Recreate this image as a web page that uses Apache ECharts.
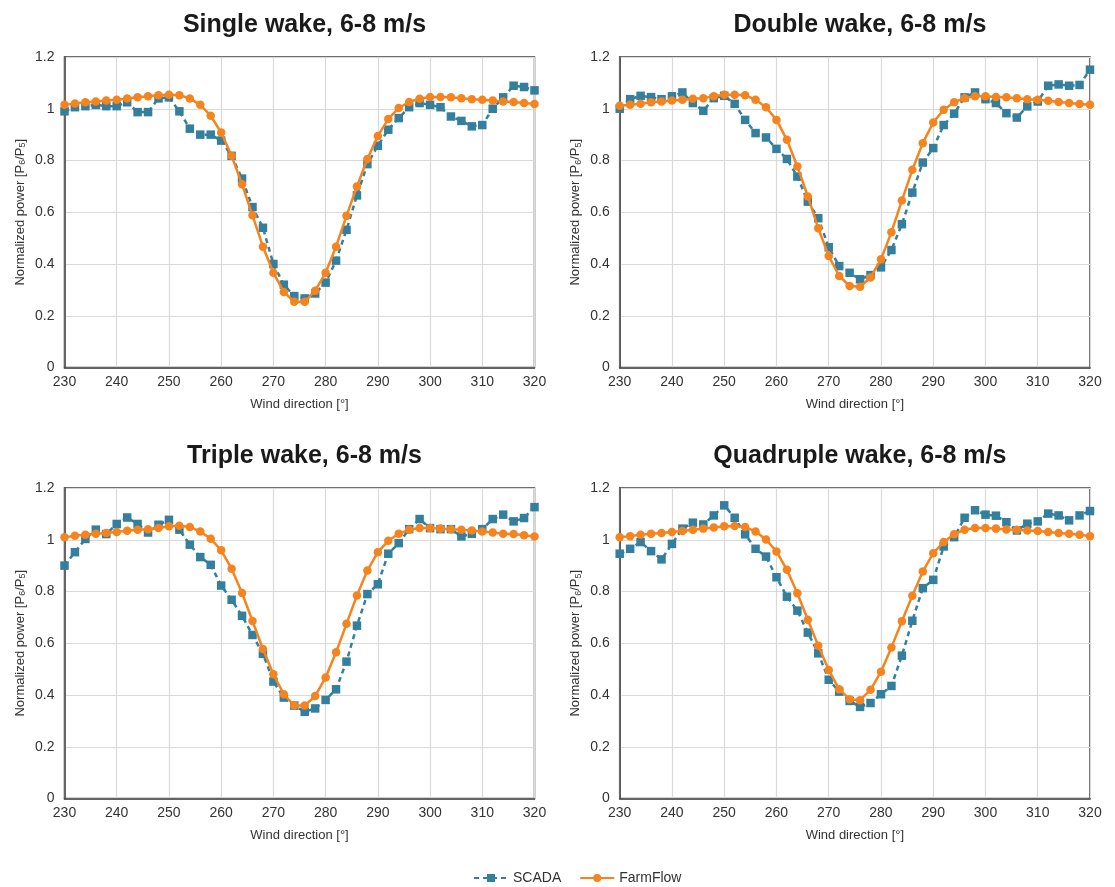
<!DOCTYPE html>
<html>
<head>
<meta charset="utf-8">
<script src="https://cdn.jsdelivr.net/npm/echarts@6/dist/echarts.min.js"></script>
<style>
html,body{margin:0;padding:0;background:#fff;}
#chart{width:1115px;height:887px;}
</style>
</head>
<body>
<div id="chart"></div>
<script>
// Wind direction categories (degrees)
const windDir = [230,232,234,236,238,240,242,244,246,248,250,252,254,256,258,260,262,264,266,268,270,272,274,276,278,280,282,284,286,288,290,292,294,296,298,300,302,304,306,308,310,312,314,316,318,320];

const panelTitles = ['Single wake, 6-8 m/s','Double wake, 6-8 m/s','Triple wake, 6-8 m/s','Quadruple wake, 6-8 m/s'];
const xTicks = [230,240,250,260,270,280,290,300,310,320];
const yTicks = [0,0.2,0.4,0.6,0.8,1,1.2];

const scadaSingle = [0.99,1.006,1.01,1.015,1.01,1.01,1.025,0.987,0.987,1.04,1.044,0.99,0.923,0.90,0.90,0.877,0.818,0.73,0.62,0.54,0.40,0.32,0.276,0.267,0.286,0.328,0.413,0.532,0.665,0.786,0.857,0.919,0.964,1.006,1.022,1.015,1.006,0.970,0.953,0.932,0.937,1.0,1.044,1.089,1.084,1.071];
const farmSingle = [1.015,1.02,1.025,1.028,1.032,1.035,1.04,1.044,1.048,1.052,1.054,1.052,1.04,1.015,0.973,0.908,0.818,0.708,0.588,0.467,0.366,0.292,0.254,0.254,0.297,0.366,0.467,0.586,0.70,0.806,0.895,0.96,1.003,1.026,1.039,1.045,1.045,1.044,1.041,1.037,1.035,1.032,1.028,1.026,1.022,1.018];

const scadaDouble = [1.0,1.037,1.05,1.045,1.037,1.048,1.063,1.022,0.992,1.041,1.05,1.019,0.957,0.906,0.889,0.845,0.806,0.738,0.641,0.577,0.465,0.392,0.366,0.341,0.357,0.387,0.454,0.554,0.676,0.792,0.848,0.937,0.981,1.044,1.063,1.037,1.022,0.983,0.966,1.009,1.028,1.089,1.094,1.089,1.092,1.151];
const farmDouble = [1.012,1.015,1.019,1.025,1.028,1.032,1.035,1.039,1.041,1.048,1.054,1.054,1.052,1.035,1.006,0.957,0.88,0.777,0.661,0.538,0.431,0.354,0.315,0.312,0.348,0.418,0.523,0.645,0.764,0.867,0.947,0.996,1.025,1.041,1.048,1.048,1.045,1.044,1.041,1.037,1.035,1.031,1.026,1.022,1.018,1.015];

const scadaTriple = [0.90,0.952,1.003,1.039,1.022,1.061,1.086,1.061,1.028,1.058,1.077,1.039,0.981,0.933,0.903,0.823,0.768,0.706,0.632,0.559,0.452,0.39,0.359,0.335,0.348,0.381,0.422,0.529,0.668,0.79,0.828,0.946,0.987,1.041,1.08,1.045,1.041,1.041,1.013,1.023,1.041,1.08,1.097,1.071,1.084,1.126];
const farmTriple = [1.01,1.015,1.019,1.023,1.026,1.03,1.035,1.039,1.041,1.045,1.052,1.054,1.049,1.032,1.004,0.959,0.888,0.794,0.686,0.578,0.48,0.403,0.359,0.359,0.396,0.468,0.565,0.675,0.785,0.881,0.952,0.996,1.023,1.039,1.045,1.045,1.043,1.041,1.039,1.036,1.032,1.028,1.023,1.022,1.017,1.013];

const scadaQuad = [0.946,0.965,0.991,0.956,0.924,0.984,1.043,1.066,1.059,1.094,1.133,1.085,1.021,0.965,0.935,0.855,0.78,0.726,0.641,0.561,0.459,0.413,0.377,0.354,0.369,0.403,0.435,0.552,0.687,0.813,0.845,0.974,1.01,1.085,1.114,1.097,1.093,1.068,1.036,1.062,1.071,1.101,1.094,1.075,1.094,1.111];
const farmQuad = [1.01,1.014,1.019,1.023,1.026,1.03,1.034,1.039,1.043,1.047,1.052,1.053,1.049,1.032,1.001,0.955,0.884,0.793,0.691,0.59,0.497,0.422,0.384,0.38,0.42,0.49,0.584,0.685,0.784,0.877,0.948,0.991,1.021,1.039,1.045,1.045,1.043,1.04,1.039,1.036,1.034,1.03,1.026,1.023,1.019,1.014];

const scadaAll = [scadaSingle, scadaDouble, scadaTriple, scadaQuad];
const farmAll = [farmSingle, farmDouble, farmTriple, farmQuad];

const SCADA_COLOR = '#337f9d';
const FARM_COLOR = '#f5841f';
const FONT = 'Liberation Sans';

const grids = [
  {left: 64.5, top: 57, width: 470, height: 310.5},
  {left: 619.7, top: 57, width: 470.3, height: 310.5},
  {left: 64.5, top: 488, width: 470, height: 310.5},
  {left: 619.7, top: 488, width: 470.3, height: 310.5}
];

const option = {
  backgroundColor: '#fff',
  animation: false,
  title: grids.map((g, i) => ({
    text: panelTitles[i],
    left: g.left + g.width / 2,
    top: g.top - 49,
    textAlign: 'center',
    textStyle: {fontFamily: FONT, fontWeight: 'bold', fontSize: 25, color: '#1a1a1a'}
  })),
  legend: {
    top: 866,
    left: 468,
    itemWidth: 34,
    itemHeight: 10,
    itemGap: 18,
    textStyle: {fontFamily: FONT, fontSize: 14, color: '#333'},
    data: ['SCADA', 'FarmFlow']
  },
  grid: grids.map(g => Object.assign({show: true, borderColor: '#404040', borderWidth: 1.5, backgroundColor: 'transparent'}, g)),
  xAxis: grids.map((g, i) => ({
    type: 'value', gridIndex: i, min: 230, max: 320, interval: 10,
    name: 'Wind direction [°]', nameLocation: 'middle', nameGap: 30,
    nameTextStyle: {fontFamily: FONT, fontSize: 13, color: '#333'},
    axisLine: {show: true, lineStyle: {color: '#404040', width: 1.5}},
    axisTick: {show: false},
    axisLabel: {fontFamily: FONT, fontSize: 14, color: '#333', margin: 8},
    splitLine: {show: true, lineStyle: {color: '#d9d9d9', width: 1.2}}
  })),
  yAxis: grids.map((g, i) => ({
    type: 'value', gridIndex: i, min: 0, max: 1.2, interval: 0.2,
    name: 'Normalized power [P{sub|6}/P{sub|5}]', nameLocation: 'middle', nameGap: 37, nameRotate: 90,
    nameTextStyle: {fontFamily: FONT, fontSize: 13, color: '#333',
      rich: {sub: {fontFamily: FONT, fontSize: 9, color: '#333', verticalAlign: 'bottom', padding: [6, 0, 0, 0]}}},
    axisLine: {show: true, lineStyle: {color: '#404040', width: 1.5}},
    axisTick: {show: false},
    axisLabel: {fontFamily: FONT, fontSize: 14, color: '#333', margin: 10,
      formatter: v => String(Math.round(v * 10) / 10)},
    splitLine: {show: true, lineStyle: {color: '#d9d9d9', width: 1.2}}
  })),
  series: []
};

for (let i = 0; i < 4; i++) {
  option.series.push({
    name: 'SCADA', type: 'line', xAxisIndex: i, yAxisIndex: i,
    data: windDir.map((x, k) => [x, scadaAll[i][k]]),
    symbol: 'rect', symbolSize: 8.5,
    itemStyle: {color: SCADA_COLOR},
    lineStyle: {color: SCADA_COLOR, width: 2.5, type: [5, 4]},
    z: 2
  });
  option.series.push({
    name: 'FarmFlow', type: 'line', xAxisIndex: i, yAxisIndex: i,
    data: windDir.map((x, k) => [x, farmAll[i][k]]),
    symbol: 'circle', symbolSize: 8.5,
    itemStyle: {color: FARM_COLOR},
    lineStyle: {color: FARM_COLOR, width: 2.5},
    z: 3
  });
}

const chart = echarts.init(document.getElementById('chart'), null, {renderer: 'canvas'});
chart.setOption(option);
</script>
</body>
</html>
